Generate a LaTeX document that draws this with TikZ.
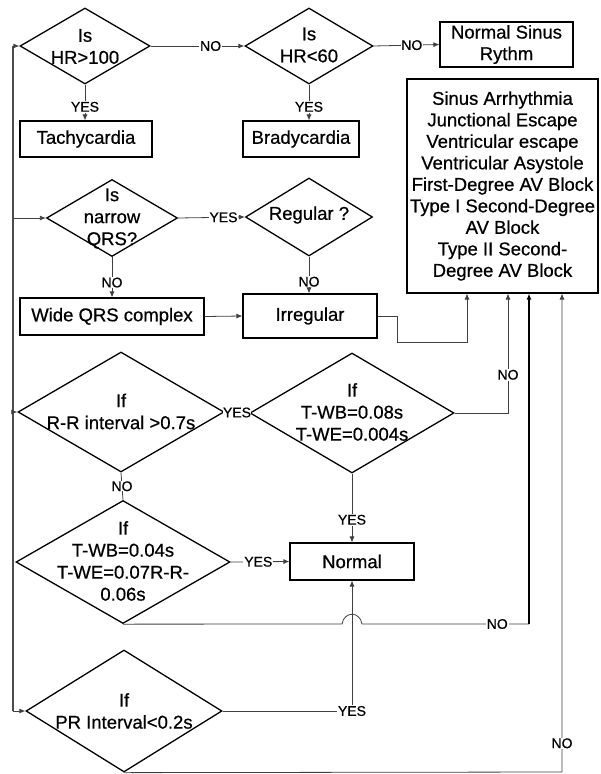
\documentclass[tikz,border=0pt]{standalone}
\usepackage{fontspec}
\setmainfont{Liberation Sans}[FakeBold=0.6]
\usetikzlibrary{shapes.geometric,arrows.meta}
\begin{document}
\begin{tikzpicture}[x=1bp,y=-1bp,
  dia/.style={shape=diamond,draw=black,line width=1.3pt,inner sep=0pt,aspect=1},
  box/.style={draw=black,line width=1.1pt,inner sep=0pt,align=center,font=\fontsize{18.5bp}{21.5bp}\selectfont},
  dtext/.style={align=center,inner sep=0pt,font=\fontsize{18.5bp}{22bp}\selectfont},
  conn/.style={draw=black!75,line width=0.8pt},
  arr/.style={conn,-{Latex[length=6bp,width=5bp]}},
  lbl/.style={fill=white,inner sep=0.8pt,font=\fontsize{14bp}{16bp}\selectfont},
  thickconn/.style={draw=black,line width=1.6pt,-{Latex[length=6bp,width=5bp]}}
]
\useasboundingbox (0,0) rectangle (601,774);

% diamonds
\node[dia,minimum width=130bp,minimum height=76bp] (d1) at (85,46) {};
\node[dtext] at (85,46.5) {Is\\HR>100};
\node[dia,minimum width=128bp,minimum height=76bp] (d2) at (309,46) {};
\node[dtext] at (309,45) {Is\\HR<60};
\node[dia,minimum width=131bp,minimum height=77bp] (d3) at (112,218) {};
\node[dtext] at (112,218.5) {Is\\narrow\\QRS?};
\node[dia,minimum width=127bp,minimum height=78bp] (d4) at (309,217) {};
\node[dtext] at (309,215) {Regular ?};
\node[dia,minimum width=206bp,minimum height=120bp] (d5) at (121,412) {};
\node[dtext] at (121,411.5) {If\\R-R interval >0.7s};
\node[dia,minimum width=204bp,minimum height=120bp] (d6) at (352,413) {};
\node[dtext] at (352,412) {If\\T-WB=0.08s\\T-WE=0.004s};
\node[dia,minimum width=214bp,minimum height=123bp] (d7) at (123,562) {};
\node[dtext] at (123,561) {If\\T-WB=0.04s\\T-WE=0.07R-R-\\0.06s};
\node[dia,minimum width=196bp,minimum height=122bp] (d8) at (124,711) {};
\node[dtext] at (124,711) {If\\PR Interval<0.2s};

% boxes
\node[box,minimum width=133bp,minimum height=45bp] (nsr) at (506.5,44.5) {Normal Sinus\\Rythm};
\node[box,minimum width=191bp,minimum height=214bp] (big) at (502.5,186) {Sinus Arrhythmia\\Junctional Escape\\Ventricular escape\\Ventricular Asystole\\First-Degree AV Block\\Type I Second-Degree\\AV Block\\Type II Second-\\Degree AV Block};
\node[box,minimum width=132bp,minimum height=36bp] (tachy) at (86,139) {Tachycardia};
\node[box,minimum width=116bp,minimum height=36bp] (brady) at (301,139) {Bradycardia};
\node[box,minimum width=184bp,minimum height=37bp] (wide) at (112,316.5) {Wide QRS complex};
\node[box,minimum width=134bp,minimum height=44bp] (irreg) at (310,316) {Irregular};
\node[box,minimum width=124bp,minimum height=37bp] (normal) at (352,561.5) {Normal};

% left return line
\coordinate (lt) at (13,46);
\coordinate (l3) at (13,218);
\coordinate (l5) at (13,412);
\coordinate (lb) at (13,711);
\draw[draw=black!70,line width=1.4pt] (lt) -- (lb);
\draw[arr] (lt) -- (d1.west);
\draw[arr] (l3) -- (d3.west);
\draw[arr] (l5) -- (d5.west);
\draw[arr] (lb) -- (d8.west);

% top row
\draw[arr] (d1.east) -- node[lbl,pos=0.64]{NO} (d2.west);
\draw[arr] (d2.east) -- node[lbl,pos=0.58]{NO} (nsr.west);
\draw[arr] (d1.south) -- node[lbl,pos=0.62]{YES} (d1.south |- tachy.north);
\draw[arr] (d2.south) -- node[lbl,pos=0.62]{YES} (d2.south |- brady.north);

% QRS row
\draw[arr] (d3.east) -- node[lbl,pos=0.68]{YES} (d4.west);
\draw[arr] (d3.south) -- node[lbl,pos=0.63]{NO} (d3.south |- wide.north);
\draw[arr] (d4.south) -- node[lbl,pos=0.68]{NO} (d4.south |- irreg.north);
\draw[arr] (wide.east) -- (irreg.west);
\coordinate (i1) at (397,342);
\coordinate (i2) at (467,342);
\draw[arr] (irreg.east) -| (i1) -- (i2) -- (i2 |- big.south);

% R-R diamonds
\draw[conn] (d5.east) -- node[lbl,inner sep=0pt]{YES} (d6.west);
\draw[conn] (d5.south) -- node[lbl,inner sep=0pt]{NO} (d7.north);
\coordinate (n6) at (508,413);
\draw[arr] (d6.east) -- (n6) -- node[lbl,pos=0.32]{NO} (n6 |- big.south);
\draw[arr] (d6.south) -- node[lbl,pos=0.67]{YES} (normal.north);
\draw[arr] (d7.east) -- node[lbl,pos=0.47]{YES} (normal.west);

% d7 NO path with hop
\coordinate (h1) at (342,624);
\coordinate (h2) at (362,624);
\coordinate (n7) at (529,624);
\draw[conn] (d7.south) -- (h1) .. controls +(2,-13) and +(-2,-13) .. (h2) -- node[lbl,pos=0.81]{NO} (n7);
\draw[thickconn] (n7) -- (n7 |- big.south);

% PR diamond
\coordinate (p8) at (352,711);
\draw[conn] (d8.east) -- (p8);
\draw[arr] (p8) -- (normal.south);
\node[lbl] at (p8) {YES};
\coordinate (n8) at (562,772);
\draw[arr] (d8.south) -- (n8) -- node[lbl,pos=0.06]{NO} (n8 |- big.south);
\end{tikzpicture}
\end{document}
